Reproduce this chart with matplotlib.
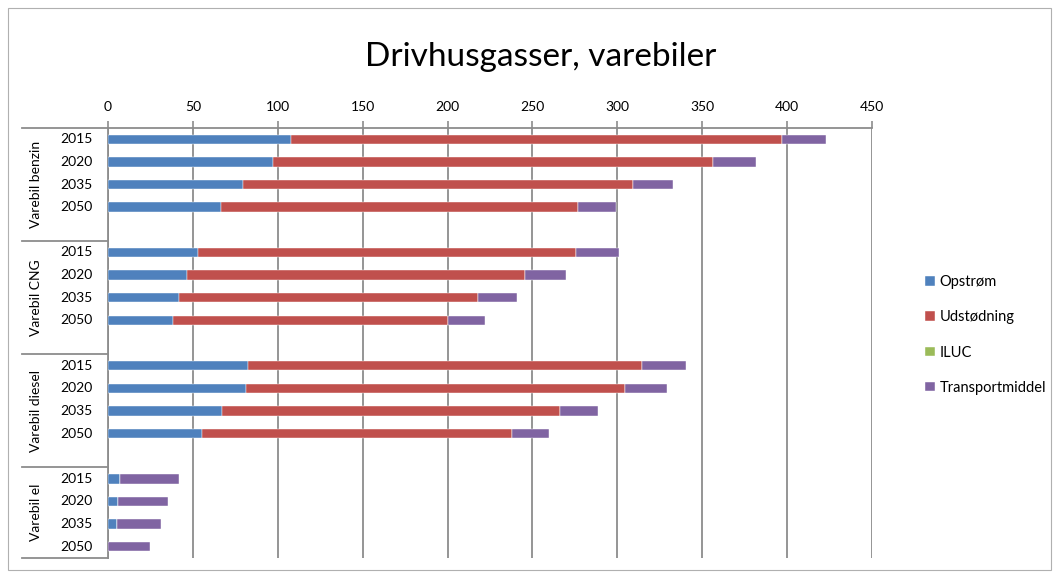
import matplotlib
matplotlib.use("Agg")
import matplotlib.pyplot as plt
from matplotlib.patches import Rectangle
from matplotlib.transforms import blended_transform_factory
import numpy as np

plt.rcParams['font.family'] = ['Lato', 'DejaVu Sans']

title = "Drivhusgasser, varebiler"
groups = ["Varebil benzin", "Varebil CNG", "Varebil diesel", "Varebil el"]
years = ["2015", "2020", "2035", "2050"]
series_names = ["Opstrøm", "Udstødning", "ILUC", "Transportmiddel"]
colors = ["#4F81BD", "#C0504D", "#9BBB59", "#8064A2"]

# values per group, order of years: 2015, 2020, 2035, 2050
opstrom = [
    [107.5, 97, 79.5, 66.5],   # benzin
    [53, 46.5, 42, 38],        # CNG
    [82.5, 81, 67, 55.5],      # diesel
    [7, 6, 5.5, 0],            # el
]
udstodning = [
    [289.5, 259.5, 229.5, 210.5],
    [222.5, 199, 176, 162],
    [232, 223.5, 199, 182.5],
    [0, 0, 0, 0],
]
iluc = [
    [0, 0, 0, 0],
    [0, 0, 0, 0],
    [0, 0, 0, 0],
    [0, 0, 0, 0],
]
transportmiddel = [
    [26, 25, 23.5, 22.5],
    [25.5, 24.5, 23, 22],
    [26, 24.5, 22.5, 22],
    [35, 29.5, 25.5, 24.5],
]
xticks = [0, 50, 100, 150, 200, 250, 300, 350, 400, 450]

W, H = 1059, 578
fig = plt.figure(figsize=(W / 100, H / 100), dpi=100)
fig.patches.append(Rectangle((8 / W, 8 / H), (1051 - 8) / W, (570 - 8) / H,
                             transform=fig.transFigure, fill=False,
                             edgecolor="#b0b0b0", linewidth=0.8))

left, right, top, bottom = 108, 872, 128, 558
ax = fig.add_axes([left / W, 1 - bottom / H, (right - left) / W, (bottom - top) / H])

# row positions: 4 years per group, blank slot between groups
positions = []
slot = 0
for g in range(len(groups)):
    positions.append([slot + i for i in range(len(years))])
    slot += len(years) + 1
n_slots = slot - 1

all_series = [opstrom, udstodning, iluc, transportmiddel]
for g in range(len(groups)):
    lefts = np.zeros(len(years))
    for s, data in enumerate(all_series):
        vals = np.array(data[g], dtype=float)
        ax.barh(positions[g], vals, left=lefts, height=0.42, color=colors[s],
                edgecolor="#ffffff", linewidth=0.3, zorder=3,
                label=series_names[s] if g == 0 else None)
        lefts += vals

ax.set_xlim(0, 450)
ax.set_ylim(n_slots - 0.5, -0.5)
ax.xaxis.tick_top()
ax.set_xticks(xticks)
ax.set_xticklabels([str(t) for t in xticks], fontsize=10)
ax.tick_params(axis='x', length=5, color="#8c8c8c", width=1.2, pad=6)
ax.set_yticks([])
ax.grid(axis='x', color="#8c8c8c", linewidth=1.3, zorder=0)
for sp in ["right", "bottom"]:
    ax.spines[sp].set_visible(False)
ax.spines["top"].set_color("#8c8c8c")
ax.spines["top"].set_linewidth(1.3)
ax.spines["left"].set_color("#8c8c8c")
ax.spines["left"].set_linewidth(1.3)

# multi-level category labels
trans = blended_transform_factory(fig.transFigure, ax.transData)
bounds = [-0.5]
for g in range(len(groups)):
    b = positions[g][-1] + 0.5 + (1 if g < len(groups) - 1 else 0)
    bounds.append(b)
for b in bounds:
    ax.plot([22 / W, left / W], [b, b], transform=trans, color="#8c8c8c",
            linewidth=1.3, clip_on=False)
for g in range(len(groups)):
    for i, yr in enumerate(years):
        ax.text(76 / W, positions[g][i], yr, transform=trans, ha="center",
                va="center", fontsize=10)
    yc = (bounds[g] + bounds[g + 1]) / 2
    ax.text(36 / W, yc, groups[g], transform=trans, rotation=90, ha="center",
            va="center", fontsize=10)

fig.text(541 / W, 1 - 57 / H, title, ha="center", va="center", fontsize=24)

handles, labels = ax.get_legend_handles_labels()
fig.legend(handles, labels, loc="center left", bbox_to_anchor=(912 / W, 1 - 335 / H),
           frameon=False, fontsize=10.5, handlelength=0.65, handleheight=0.65,
           handletextpad=0.35, labelspacing=1.45)

fig.savefig("out.png", dpi=100)
